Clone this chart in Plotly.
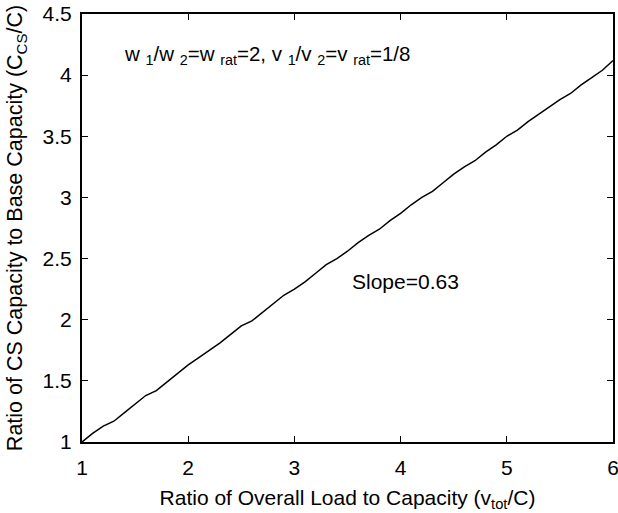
import plotly.graph_objects as go

x_vals = [round(1 + 0.1 * i, 1) for i in range(51)]
y_vals = [1.00, 1.07, 1.13, 1.17, 1.24, 1.31, 1.38, 1.42, 1.49, 1.56,
          1.63, 1.69, 1.75, 1.81, 1.88, 1.95, 1.99, 2.06, 2.13, 2.20,
          2.25, 2.31, 2.38, 2.45, 2.50, 2.56, 2.63, 2.69, 2.74, 2.81,
          2.87, 2.94, 3.00, 3.05, 3.12, 3.19, 3.25, 3.30, 3.37, 3.43,
          3.50, 3.55, 3.62, 3.68, 3.74, 3.80, 3.85, 3.92, 3.98, 4.04,
          4.12]
x_ticks = [1, 2, 3, 4, 5, 6]
y_ticks = [1, 1.5, 2, 2.5, 3, 3.5, 4, 4.5]
y_tick_text = ["1", "1.5", "2", "2.5", "3", "3.5", "4", "4.5"]

font = "Liberation Sans, Arial, sans-serif"

fig = go.Figure()
fig.add_trace(go.Scatter(x=x_vals, y=y_vals, mode="lines",
                         line=dict(color="black", width=1.5),
                         showlegend=False, hoverinfo="skip"))

axis_common = dict(showgrid=False, zeroline=False, showline=True,
                   linecolor="black", linewidth=2, mirror="ticks",
                   ticks="inside", ticklen=6, tickwidth=1, tickcolor="black",
                   automargin=False, ticklabeloverflow="allow",
                   tickfont=dict(family=font, size=21, color="black"))

fig.update_xaxes(range=[1, 6], tickvals=x_ticks, ticklabelstandoff=6, **axis_common,
                 title=dict(text="Ratio of Overall Load to Capacity (v<sub>tot</sub>/C)",
                            font=dict(family=font, size=21, color="black"), standoff=12))
fig.update_yaxes(range=[1, 4.5], tickvals=y_ticks, ticktext=y_tick_text,
                 ticklabelstandoff=4, **axis_common,
                 title=dict(text="Ratio of CS Capacity to Base Capacity (C<sub>CS</sub>/C)",
                            font=dict(family=font, size=21.5, color="black"), standoff=14))

fig.add_annotation(x=1.38, y=4.165, xref="x", yref="y", xanchor="left", yanchor="middle",
                   text="w <sub>1</sub>/w <sub>2</sub>=w <sub>rat</sub>=2, v <sub>1</sub>/v <sub>2</sub>=v <sub>rat</sub>=1/8",
                   showarrow=False, font=dict(family=font, size=20.5, color="black"))
fig.add_annotation(x=3.52, y=2.31, xref="x", yref="y", xanchor="left", yanchor="middle",
                   text="Slope=0.63", showarrow=False,
                   font=dict(family=font, size=21, color="black"))

fig.update_layout(width=618, height=513, plot_bgcolor="white", paper_bgcolor="white",
                  margin=dict(l=82, r=5, t=14, b=71))

fig.write_html("out.html", config={"displayModeBar": False},
               post_script="document.body.style.margin='0';")
